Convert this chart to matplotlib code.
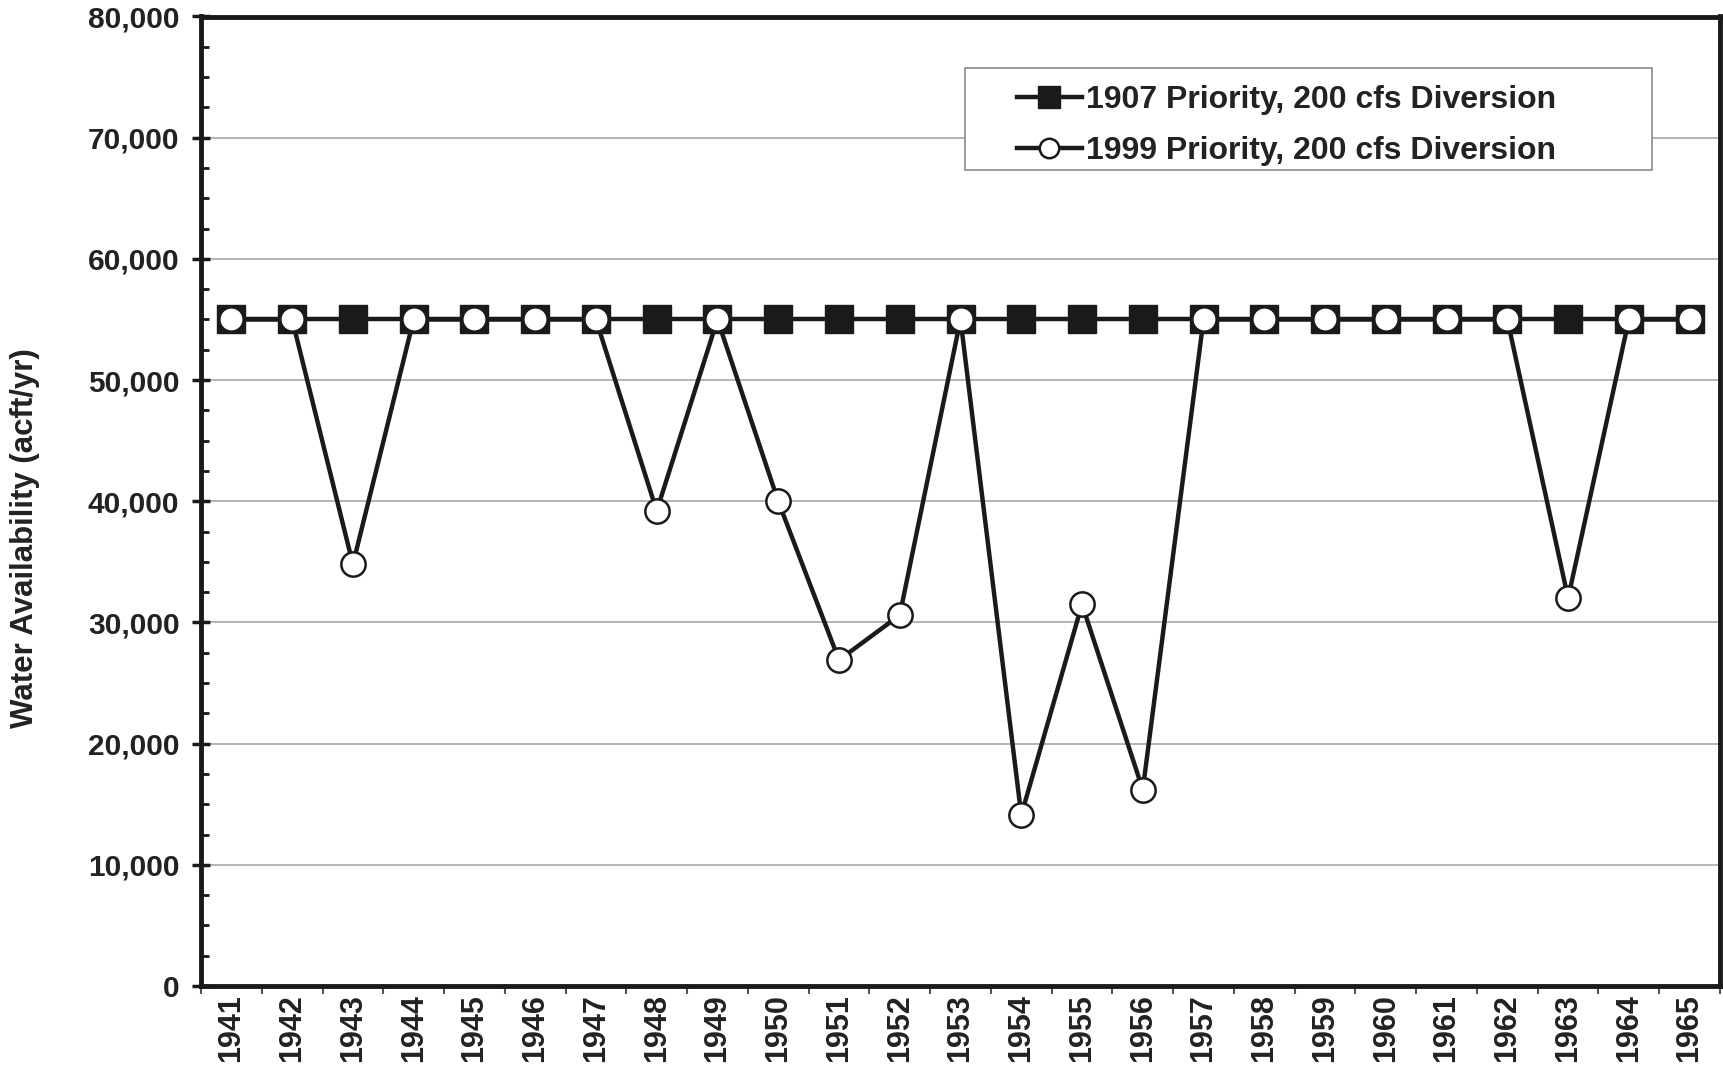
import numpy as np
import matplotlib
matplotlib.use('Agg')
import matplotlib.pyplot as plt
from matplotlib.ticker import MultipleLocator, StrMethodFormatter, FixedLocator
from matplotlib.patches import Rectangle

plt.rcParams['font.family'] = ['Liberation Sans', 'DejaVu Sans']
plt.rcParams['font.weight'] = 'bold'

# data
years = [str(y) for y in range(1941, 1966)]
priority_1907 = [55000] * 25
priority_1999 = [55000, 55000, 34800, 55000, 55000, 55000, 55000, 39200, 55000, 40000,
                 26900, 30600, 55000, 14100, 31500, 16200, 55000, 55000, 55000, 55000,
                 55000, 55000, 32000, 55000, 55000]
labels = ['1907 Priority, 200 cfs Diversion', '1999 Priority, 200 cfs Diversion']

txt = '#222222'
x = np.arange(len(years))

fig = plt.figure(figsize=(17.23, 10.72), dpi=100)
ax = fig.add_axes([201 / 1723, 86 / 1072, 1519 / 1723, 969.5 / 1072])

ax.plot(x, priority_1907, color='#1a1a1a', lw=3.2, marker='s', markersize=20,
        markerfacecolor='#1a1a1a', markeredgecolor='#1a1a1a', label=labels[0], zorder=4)
ax.plot(x, priority_1999, color='#1a1a1a', lw=3.2, marker='o', markersize=17.5,
        markerfacecolor='white', markeredgecolor='#1a1a1a', markeredgewidth=1.8,
        label=labels[1], zorder=5)

ax.set_xlim(-0.5, len(years) - 0.5)
ax.set_ylim(0, 80000)

ax.set_xticks(x)
ax.set_xticklabels(years, rotation=90, fontsize=22, fontweight='bold', color=txt)
ax.xaxis.set_minor_locator(FixedLocator(np.arange(-0.5, len(years), 1.0)))
ax.tick_params(axis='x', which='major', length=0, pad=6)
ax.tick_params(axis='x', which='minor', length=6, width=1.5, color='#555555', direction='out')

ax.yaxis.set_major_locator(MultipleLocator(10000))
ax.yaxis.set_minor_locator(MultipleLocator(2500))
ax.yaxis.set_major_formatter(StrMethodFormatter('{x:,.0f}'))
ax.tick_params(axis='y', which='major', direction='inout', length=13, width=2.5,
               color='#1a1a1a', pad=9, labelsize=21.5, labelcolor=txt)
ax.tick_params(axis='y', which='minor', direction='in', length=6, width=2.0, color='#1a1a1a')
for lab in ax.get_yticklabels():
    lab.set_fontweight('bold')

ax.grid(axis='y', which='major', color='#a0a0a0', lw=1.1)
ax.set_axisbelow(True)

for side in ['left', 'bottom', 'top', 'right']:
    ax.spines[side].set_linewidth(3.5)
    ax.spines[side].set_color('#1a1a1a')

ax.set_ylabel('Water Availability (acft/yr)', fontsize=22.5, fontweight='bold', color=txt)
ax.yaxis.set_label_coords(-0.106, 0.462)

# legend box
ax.add_patch(Rectangle((0.503, 0.8417), 0.4523, 0.1052, transform=ax.transAxes,
                       facecolor='white', edgecolor='#8a8a8a', lw=1.2, zorder=6))
leg = ax.legend(loc='upper left', bbox_to_anchor=(0.537, 0.929), frameon=False,
                fontsize=23, handlelength=2.05, handletextpad=0.12, labelspacing=0.66,
                borderpad=0, borderaxespad=0, markerscale=0.8)
leg.set_zorder(7)
for t in leg.get_texts():
    t.set_color(txt)
    t.set_fontweight('bold')

fig.savefig('out.png', dpi=100)
